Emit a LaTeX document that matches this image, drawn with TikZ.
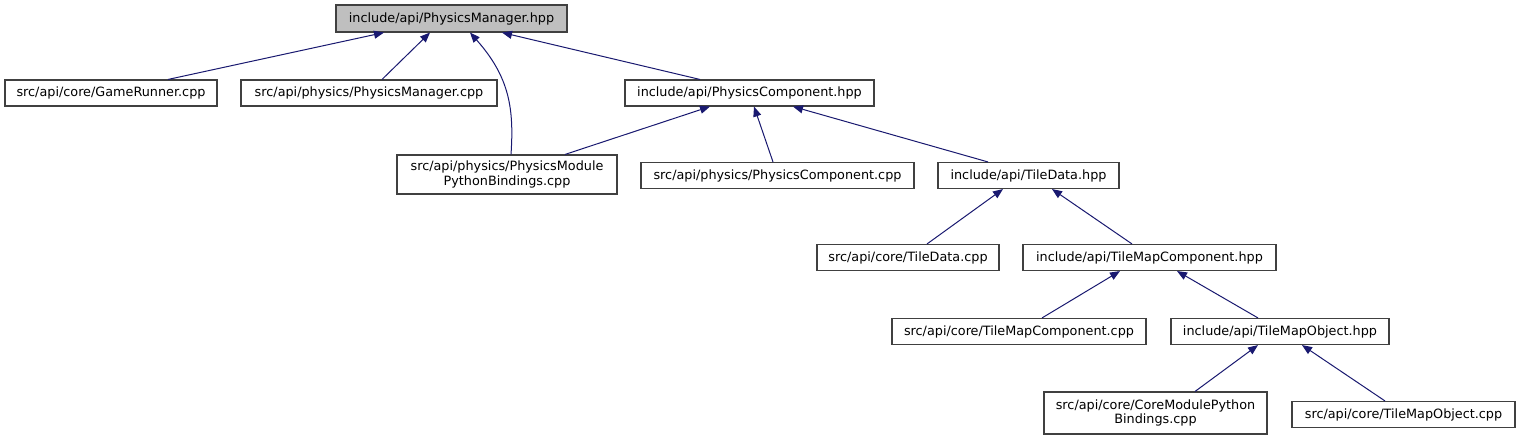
\documentclass[tikz,border=0pt]{standalone}
\usepackage{fontspec}
\setmainfont{DejaVu Sans}
\usetikzlibrary{arrows.meta}
\definecolor{edgeblue}{HTML}{191970}
\definecolor{boxline}{HTML}{404040}
\definecolor{curfill}{HTML}{BFBFBF}
\tikzset{
  box/.style={draw=boxline, line width=1.1pt, fill=white, inner sep=0pt,
    align=center, font=\fontsize{12.8}{14.5}\selectfont},
  curbox/.style={box, fill=curfill},
  edge/.style={draw=edgeblue, line width=1pt, -{Triangle[length=10pt,width=8pt]}},
}
\begin{document}
\begin{tikzpicture}[x=1pt,y=-1pt]
\useasboundingbox[fill=white] (0,0) rectangle (1520,440);
% row 0
\node[curbox, minimum width=231pt, minimum height=27pt] (PMH) at (451.5,18.5) {include/api/PhysicsManager.hpp};
% row 1
\node[box, minimum width=212pt, minimum height=26pt] (GR) at (111,93) {src/api/core/GameRunner.cpp};
\node[box, minimum width=256pt, minimum height=26pt] (PMC) at (369,93) {src/api/physics/PhysicsManager.cpp};
\node[box, minimum width=249pt, minimum height=26pt] (PCH) at (749.5,93) {include/api/PhysicsComponent.hpp};
% row 2
\node[box, minimum width=220pt, minimum height=39pt] (PMPB) at (507,174.5) {src/api/physics/PhysicsModule\\PythonBindings.cpp};
\node[box, minimum width=273pt, minimum height=26pt] (PCC) at (777.5,175.5) {src/api/physics/PhysicsComponent.cpp};
\node[box, minimum width=181pt, minimum height=26pt] (TDH) at (1028.5,175.5) {include/api/TileData.hpp};
% row 3
\node[box, minimum width=182pt, minimum height=26pt] (TDC) at (908,257.5) {src/api/core/TileData.cpp};
\node[box, minimum width=253pt, minimum height=26pt] (TMCH) at (1149.5,257.5) {include/api/TileMapComponent.hpp};
% row 4
\node[box, minimum width=254pt, minimum height=26pt] (TMCC) at (1019,331.5) {src/api/core/TileMapComponent.cpp};
\node[box, minimum width=218pt, minimum height=26pt] (TMOH) at (1280,331.5) {include/api/TileMapObject.hpp};
% row 5
\node[box, minimum width=223pt, minimum height=42pt] (CMPB) at (1155.5,413) {src/api/core/CoreModulePython\\Bindings.cpp};
\node[box, minimum width=223pt, minimum height=26pt] (TMOC) at (1403.5,414.5) {src/api/core/TileMapObject.cpp};
% edges
\draw[edge] ([xshift=57pt]GR.north) -- ([xshift=-67.5pt]PMH.south);
\draw[edge] ([xshift=13pt]PMC.north) -- ([xshift=-21.5pt]PMH.south);
\draw[edge] ([xshift=4pt]PMPB.north) .. controls +(3,-45) and +(40,45) .. ([xshift=18.5pt]PMH.south);
\draw[edge] ([xshift=-49.5pt]PCH.north) -- ([xshift=50.5pt]PMH.south);
\draw[edge] ([xshift=58pt]PMPB.north) -- ([xshift=-39.5pt]PCH.south);
\draw[edge] ([xshift=-4.5pt]PCC.north) -- ([xshift=4.5pt]PCH.south);
\draw[edge] ([xshift=-40.5pt]TDH.north) -- ([xshift=43.5pt]PCH.south);
\draw[edge] ([xshift=19pt]TDC.north) -- ([xshift=-25.5pt]TDH.south);
\draw[edge] ([xshift=-17.5pt]TMCH.north) -- ([xshift=23.5pt]TDH.south);
\draw[edge] ([xshift=23pt]TMCC.north) -- ([xshift=-29.5pt]TMCH.south);
\draw[edge] ([xshift=-22pt]TMOH.north) -- ([xshift=27.5pt]TMCH.south);
\draw[edge] ([xshift=39.5pt]CMPB.north) -- ([xshift=-22pt]TMOH.south);
\draw[edge] ([xshift=-18.5pt]TMOC.north) -- ([xshift=22pt]TMOH.south);
\end{tikzpicture}
\end{document}
